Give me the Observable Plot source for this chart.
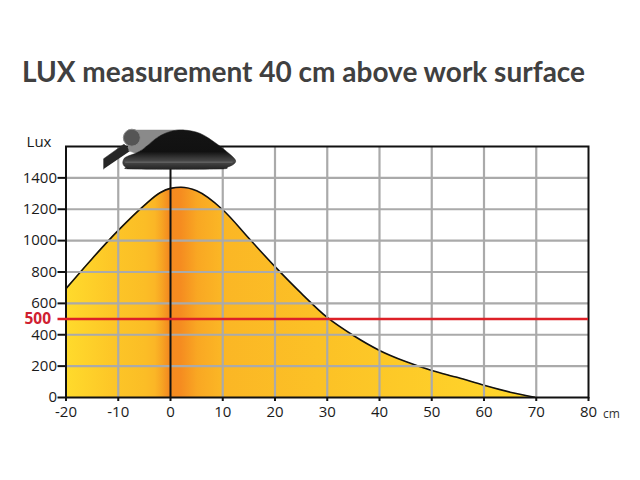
<!DOCTYPE html>
<html>
<head>
<meta charset="utf-8">
<script src="https://cdn.jsdelivr.net/npm/d3@7"></script>
<script src="https://cdn.jsdelivr.net/npm/@observablehq/plot@0.6"></script>
<style>
html,body{margin:0;padding:0;background:#fff}
#title{height:110px;box-sizing:border-box;padding:54px 0 0 22px;font:bold 28px/34px Lato,sans-serif;color:#404040;white-space:nowrap}
svg{display:block;overflow:visible}
</style>
</head>
<body>
<div id="title">LUX measurement 40 cm above work surface</div>
<div id="chart"></div>
<script>
const curveCm  = [-20,-15,-10,-5,-2,0,2,5,10,15,20,25,30,35,40,45,50,55,60,65,70];
const curveLux = [694,885,1065,1225,1305,1333,1340,1318,1197,1015,834,665,510,395,300,229,172,127,78,34,0];
const xTicks = [-20,-10,0,10,20,30,40,50,60,70,80];
const xGrid = [-10,10,20,30,40,50,60,70];
const yTicks = [0,200,400,600,800,1000,1200,1400];
const yGrid = [200,400,600,800,1000,1200,1400];
const threshold = 500;
const lampDomeX = [-8.4,-5.7,-2.5,0,2.5,5.7,8.9,11.2,12.4,12.2,11,8.9,-7,-8.6,-9.1,-9];
const lampDomeY = [1535,1573,1658,1696,1705,1683,1616,1555,1515,1490,1470,1456,1456,1470,1490,1515];
const lampArmX = [-8.6,-7,2.5,-2.5,-6.4,-8];
const lampArmY = [1680,1705,1705,1658,1553,1573];
const lampHandleX = [-12.8,-12.8,-8.9,-7.6];
const lampHandleY = [1456,1522,1615,1575];
const lampBandX = [-8.6,11.8];
const lampBandY = [1500,1500];
const lampDotX = [-7.4];
const lampDotY = [1656];

const curve = curveCm.map((x,i)=>({x,y:curveLux[i]}));
const poly = (xs,ys)=>xs.map((x,i)=>({x,y:ys[i]}));
const FONT = "'Open Sans',sans-serif";
const ns = "http://www.w3.org/2000/svg";
const makeGradient = (id,stops,vertical) => {
  const g = document.createElementNS(ns,"linearGradient");
  g.setAttribute("id",id);
  if (vertical) { g.setAttribute("x2","0"); g.setAttribute("y2","1"); }
  stops.forEach(([o,c])=>{const s=document.createElementNS(ns,"stop");s.setAttribute("offset",o);s.setAttribute("stop-color",c);g.appendChild(s);});
  return g;
};
const gradient = () => {
  const defs = document.createElementNS(ns,"defs");
  defs.appendChild(makeGradient("glow",[[0,"#FFDB2C"],[0.1,"#FDC627"],[0.17,"#FBBD26"],[0.19,"#FBB626"],[0.205,"#F7A423"],[0.22,"#F48A20"],[0.245,"#F58C20"],[0.28,"#F9A723"],[0.33,"#FBB625"],[0.55,"#FCC226"],[1,"#FFD82B"]]));
  defs.appendChild(makeGradient("dome",[[0,"#141414"],[0.55,"#111"],[0.72,"#3a3a3a"],[0.8,"#4a4a4a"],[1,"#232323"]],true));
  return defs;
};

const plot = Plot.plot({
  width:640,height:370,
  marginLeft:65.5,marginRight:52,marginTop:36,marginBottom:83,
  style:{fontFamily:FONT,fontSize:"15px",color:"#1a1a1a",background:"#fff"},
  x:{domain:[-20,80]},
  y:{domain:[0,1600]},
  marks:[
    gradient,
    Plot.areaY(curve,{x:"x",y:"y",y1:0,y2:"y",fill:"url(#glow)",curve:"monotone-x"}),
    Plot.lineY(curve,{x:"x",y:"y",stroke:"#111",strokeWidth:1.6,curve:"monotone-x"}),
    Plot.ruleX(xGrid,{stroke:"#aaaaaa",strokeWidth:2.2}),
    Plot.ruleY(yGrid,{stroke:"#aaaaaa",strokeWidth:2.2}),
    Plot.frame({stroke:"#111",strokeWidth:2}),
    Plot.ruleX([0],{stroke:"#111",strokeWidth:2}),
    Plot.ruleY([threshold],{stroke:"#dd2027",strokeWidth:2.6,insetLeft:-8}),
    Plot.axisX({ticks:xTicks,tickSize:4,tickPadding:5,fontSize:15,tickFormat:d=>String(d),label:null,stroke:"#111",strokeWidth:2,fill:"#1a1a1a"}),
    Plot.axisY({ticks:yTicks,tickSize:8,tickPadding:1,fontSize:15,tickFormat:d=>String(d),label:null,stroke:"#111",strokeWidth:2,fill:"#1a1a1a"}),
    Plot.text(["500"],{x:[-20],y:[threshold],dx:-15,textAnchor:"end",fill:"#cf2030",fontWeight:"bold",fontFamily:"'Open Sans',sans-serif",fontSize:15.5}),
    Plot.text(["Lux"],{x:[-20],y:[1600],dx:-27,dy:-4,textAnchor:"middle",fill:"#1a1a1a",fontSize:15}),
    Plot.text(["cm"],{x:[80],y:[0],dx:23,dy:17,textAnchor:"middle",fill:"#333",fontSize:12}),
    Plot.line(poly(lampHandleX,lampHandleY),{x:"x",y:"y",fill:"#262626",stroke:"#262626",strokeWidth:0.5}),
    Plot.line(poly(lampArmX,lampArmY),{x:"x",y:"y",fill:"#8a8a8a",stroke:"#8a8a8a",strokeWidth:0.5}),
    Plot.dot(lampDotX,{x:lampDotX,y:lampDotY,r:8.5,fill:"#555",stroke:"#8a8a8a",strokeWidth:1}),
    Plot.line(poly(lampDomeX,lampDomeY),{x:"x",y:"y",fill:"url(#dome)",stroke:"#1c1c1c",strokeWidth:0.5,curve:"cardinal-closed"}),
    Plot.line(poly(lampBandX,lampBandY),{x:"x",y:"y",stroke:"#6a6a6a",strokeWidth:1})
  ]
});
document.getElementById("chart").appendChild(plot);
</script>
</body>
</html>
